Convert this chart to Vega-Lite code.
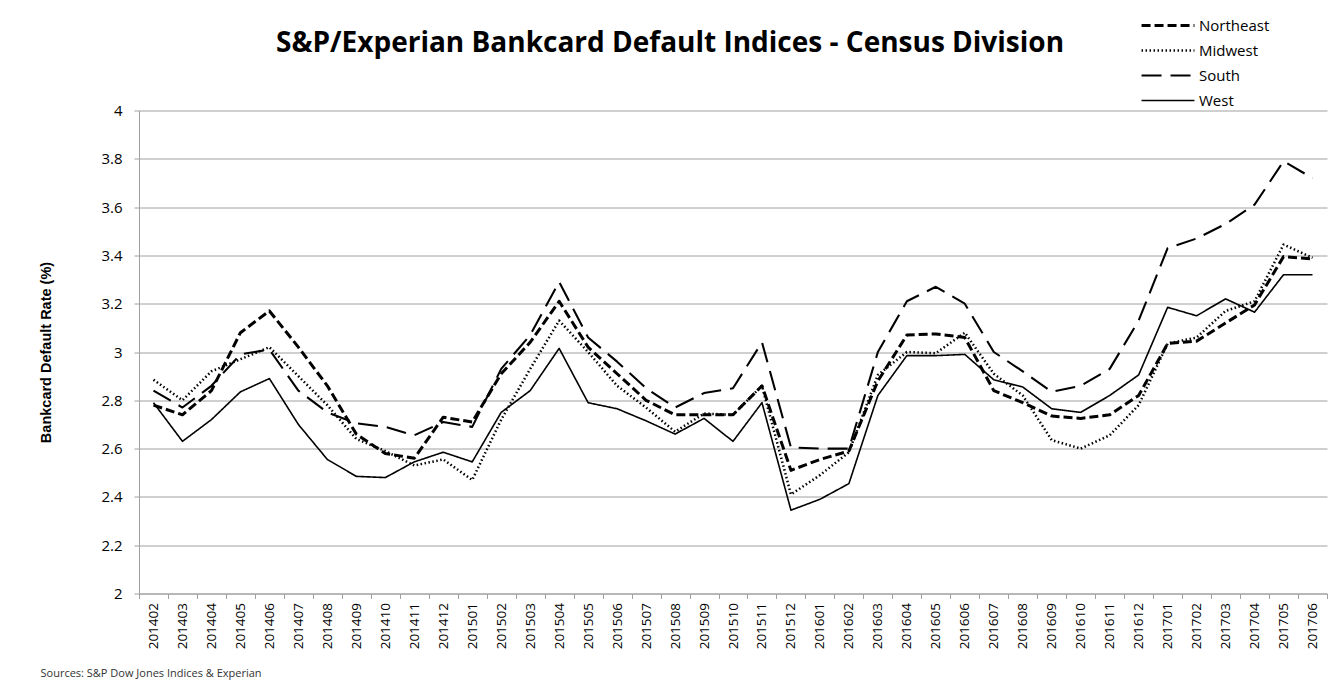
{
  "$schema": "https://vega.github.io/schema/vega-lite/v6.json",
  "autosize": {"type": "none"},
  "width": 1188,
  "height": 483,
  "padding": {"left": 139, "top": 110.5, "right": 16, "bottom": 96.5},
  "background": "white",
  "title": {
    "text": "S&P/Experian Bankcard Default Indices - Census Division",
    "font": "Open Sans",
    "fontSize": 28,
    "fontWeight": "bold",
    "color": "black",
    "anchor": "middle",
    "frame": "group",
    "dx": -63,
    "offset": -42
  },
  "data": {"values": [
    {"month":"201402","region":"Northeast","rate":2.78},{"month":"201403","region":"Northeast","rate":2.74},{"month":"201404","region":"Northeast","rate":2.84},{"month":"201405","region":"Northeast","rate":3.08},{"month":"201406","region":"Northeast","rate":3.17},{"month":"201407","region":"Northeast","rate":3.02},{"month":"201408","region":"Northeast","rate":2.86},{"month":"201409","region":"Northeast","rate":2.66},{"month":"201410","region":"Northeast","rate":2.58},{"month":"201411","region":"Northeast","rate":2.56},{"month":"201412","region":"Northeast","rate":2.73},
    {"month":"201501","region":"Northeast","rate":2.71},{"month":"201502","region":"Northeast","rate":2.91},{"month":"201503","region":"Northeast","rate":3.04},{"month":"201504","region":"Northeast","rate":3.21},{"month":"201505","region":"Northeast","rate":3.02},{"month":"201506","region":"Northeast","rate":2.91},{"month":"201507","region":"Northeast","rate":2.80},{"month":"201508","region":"Northeast","rate":2.74},{"month":"201509","region":"Northeast","rate":2.74},{"month":"201510","region":"Northeast","rate":2.74},{"month":"201511","region":"Northeast","rate":2.86},{"month":"201512","region":"Northeast","rate":2.51},
    {"month":"201601","region":"Northeast","rate":2.555},{"month":"201602","region":"Northeast","rate":2.59},{"month":"201603","region":"Northeast","rate":2.88},{"month":"201604","region":"Northeast","rate":3.07},{"month":"201605","region":"Northeast","rate":3.075},{"month":"201606","region":"Northeast","rate":3.06},{"month":"201607","region":"Northeast","rate":2.84},{"month":"201608","region":"Northeast","rate":2.79},{"month":"201609","region":"Northeast","rate":2.735},{"month":"201610","region":"Northeast","rate":2.725},{"month":"201611","region":"Northeast","rate":2.74},{"month":"201612","region":"Northeast","rate":2.82},
    {"month":"201701","region":"Northeast","rate":3.035},{"month":"201702","region":"Northeast","rate":3.045},{"month":"201703","region":"Northeast","rate":3.12},{"month":"201704","region":"Northeast","rate":3.195},{"month":"201705","region":"Northeast","rate":3.395},{"month":"201706","region":"Northeast","rate":3.385},

    {"month":"201402","region":"Midwest","rate":2.885},{"month":"201403","region":"Midwest","rate":2.80},{"month":"201404","region":"Midwest","rate":2.92},{"month":"201405","region":"Midwest","rate":2.97},{"month":"201406","region":"Midwest","rate":3.02},{"month":"201407","region":"Midwest","rate":2.90},{"month":"201408","region":"Midwest","rate":2.78},{"month":"201409","region":"Midwest","rate":2.64},{"month":"201410","region":"Midwest","rate":2.59},{"month":"201411","region":"Midwest","rate":2.53},{"month":"201412","region":"Midwest","rate":2.555},
    {"month":"201501","region":"Midwest","rate":2.47},{"month":"201502","region":"Midwest","rate":2.72},{"month":"201503","region":"Midwest","rate":2.93},{"month":"201504","region":"Midwest","rate":3.13},{"month":"201505","region":"Midwest","rate":3.0},{"month":"201506","region":"Midwest","rate":2.86},{"month":"201507","region":"Midwest","rate":2.77},{"month":"201508","region":"Midwest","rate":2.67},{"month":"201509","region":"Midwest","rate":2.745},{"month":"201510","region":"Midwest","rate":2.74},{"month":"201511","region":"Midwest","rate":2.86},{"month":"201512","region":"Midwest","rate":2.41},
    {"month":"201601","region":"Midwest","rate":2.49},{"month":"201602","region":"Midwest","rate":2.585},{"month":"201603","region":"Midwest","rate":2.905},{"month":"201604","region":"Midwest","rate":3.0},{"month":"201605","region":"Midwest","rate":2.995},{"month":"201606","region":"Midwest","rate":3.08},{"month":"201607","region":"Midwest","rate":2.91},{"month":"201608","region":"Midwest","rate":2.82},{"month":"201609","region":"Midwest","rate":2.635},{"month":"201610","region":"Midwest","rate":2.60},{"month":"201611","region":"Midwest","rate":2.655},{"month":"201612","region":"Midwest","rate":2.78},
    {"month":"201701","region":"Midwest","rate":3.035},{"month":"201702","region":"Midwest","rate":3.06},{"month":"201703","region":"Midwest","rate":3.17},{"month":"201704","region":"Midwest","rate":3.21},{"month":"201705","region":"Midwest","rate":3.445},{"month":"201706","region":"Midwest","rate":3.39},

    {"month":"201402","region":"South","rate":2.84},{"month":"201403","region":"South","rate":2.77},{"month":"201404","region":"South","rate":2.86},{"month":"201405","region":"South","rate":2.99},{"month":"201406","region":"South","rate":3.01},{"month":"201407","region":"South","rate":2.84},{"month":"201408","region":"South","rate":2.75},{"month":"201409","region":"South","rate":2.705},{"month":"201410","region":"South","rate":2.69},{"month":"201411","region":"South","rate":2.655},{"month":"201412","region":"South","rate":2.71},
    {"month":"201501","region":"South","rate":2.69},{"month":"201502","region":"South","rate":2.93},{"month":"201503","region":"South","rate":3.07},{"month":"201504","region":"South","rate":3.29},{"month":"201505","region":"South","rate":3.06},{"month":"201506","region":"South","rate":2.96},{"month":"201507","region":"South","rate":2.85},{"month":"201508","region":"South","rate":2.77},{"month":"201509","region":"South","rate":2.83},{"month":"201510","region":"South","rate":2.85},{"month":"201511","region":"South","rate":3.04},{"month":"201512","region":"South","rate":2.605},
    {"month":"201601","region":"South","rate":2.60},{"month":"201602","region":"South","rate":2.60},{"month":"201603","region":"South","rate":3.0},{"month":"201604","region":"South","rate":3.21},{"month":"201605","region":"South","rate":3.27},{"month":"201606","region":"South","rate":3.20},{"month":"201607","region":"South","rate":3.0},{"month":"201608","region":"South","rate":2.92},{"month":"201609","region":"South","rate":2.835},{"month":"201610","region":"South","rate":2.86},{"month":"201611","region":"South","rate":2.93},{"month":"201612","region":"South","rate":3.13},
    {"month":"201701","region":"South","rate":3.43},{"month":"201702","region":"South","rate":3.47},{"month":"201703","region":"South","rate":3.53},{"month":"201704","region":"South","rate":3.61},{"month":"201705","region":"South","rate":3.79},{"month":"201706","region":"South","rate":3.72},

    {"month":"201402","region":"West","rate":2.79},{"month":"201403","region":"West","rate":2.63},{"month":"201404","region":"West","rate":2.72},{"month":"201405","region":"West","rate":2.835},{"month":"201406","region":"West","rate":2.89},{"month":"201407","region":"West","rate":2.70},{"month":"201408","region":"West","rate":2.555},{"month":"201409","region":"West","rate":2.485},{"month":"201410","region":"West","rate":2.48},{"month":"201411","region":"West","rate":2.545},{"month":"201412","region":"West","rate":2.585},
    {"month":"201501","region":"West","rate":2.545},{"month":"201502","region":"West","rate":2.75},{"month":"201503","region":"West","rate":2.84},{"month":"201504","region":"West","rate":3.015},{"month":"201505","region":"West","rate":2.79},{"month":"201506","region":"West","rate":2.765},{"month":"201507","region":"West","rate":2.715},{"month":"201508","region":"West","rate":2.66},{"month":"201509","region":"West","rate":2.725},{"month":"201510","region":"West","rate":2.63},{"month":"201511","region":"West","rate":2.79},{"month":"201512","region":"West","rate":2.345},
    {"month":"201601","region":"West","rate":2.39},{"month":"201602","region":"West","rate":2.455},{"month":"201603","region":"West","rate":2.82},{"month":"201604","region":"West","rate":2.985},{"month":"201605","region":"West","rate":2.985},{"month":"201606","region":"West","rate":2.99},{"month":"201607","region":"West","rate":2.885},{"month":"201608","region":"West","rate":2.855},{"month":"201609","region":"West","rate":2.765},{"month":"201610","region":"West","rate":2.75},{"month":"201611","region":"West","rate":2.82},{"month":"201612","region":"West","rate":2.905},
    {"month":"201701","region":"West","rate":3.185},{"month":"201702","region":"West","rate":3.15},{"month":"201703","region":"West","rate":3.22},{"month":"201704","region":"West","rate":3.165},{"month":"201705","region":"West","rate":3.32},{"month":"201706","region":"West","rate":3.32}
  ]},
  "mark": {"type": "line", "color": "black", "strokeJoin": "round", "strokeCap": "butt"},
  "encoding": {
    "x": {
      "field": "month",
      "type": "ordinal",
      "scale": {"type": "band", "paddingInner": 0, "paddingOuter": 0},
      "axis": {
        "title": "Sources: S&P Dow Jones Indices & Experian",
        "titleFont": "Open Sans",
        "titleFontSize": 11,
        "titleFontWeight": "normal",
        "titleColor": "#333333",
        "titleAlign": "left",
        "titleAnchor": "start",
        "titleAngle": 0,
        "titleBaseline": "alphabetic",
        "titleX": -99,
        "titleY": 83,
        "labelAngle": -90,
        "labelFont": "Open Sans",
        "labelFontSize": 13.5,
        "labelColor": "black",
        "labelPadding": 4,
        "tickSize": 5,
        "tickColor": "#a0a0a0",
        "domainColor": "#a0a0a0",
        "tickBand": "extent",
        "grid": false
      }
    },
    "y": {
      "field": "rate",
      "type": "quantitative",
      "scale": {"domain": [2, 4], "nice": false, "zero": false},
      "axis": {
        "values": [2, 2.2, 2.4, 2.6, 2.8, 3, 3.2, 3.4, 3.6, 3.8, 4],
        "format": ".1~f",
        "title": "Bankcard Default Rate (%)",
        "titleFont": "Liberation Sans",
        "titleFontSize": 14.5,
        "titleFontWeight": "bold",
        "titleColor": "black",
        "titleAngle": 270,
        "titleAlign": "center",
        "titleBaseline": "alphabetic",
        "titleX": -89,
        "titleY": 241.5,
        "labelFont": "Open Sans",
        "labelFontSize": 15,
        "labelColor": "black",
        "labelPadding": 12,
        "tickSize": 5,
        "tickColor": "#a0a0a0",
        "domainColor": "#a0a0a0",
        "grid": true,
        "gridColor": "#a0a0a0",
        "gridWidth": 1
      }
    },
    "strokeDash": {
      "field": "region",
      "type": "nominal",
      "scale": {
        "domain": ["Northeast", "Midwest", "South", "West"],
        "range": [[9, 4], [1.5, 2.5], [20, 9], [1, 0]]
      },
      "legend": {
        "title": null,
        "orient": "none",
        "legendX": 1001,
        "legendY": -95,
        "symbolType": "stroke",
        "symbolSize": 2800,
        "symbolStrokeColor": "black",
        "clipHeight": 20,
        "rowPadding": 5,
        "labelFont": "Open Sans",
        "labelFontSize": 15,
        "labelColor": "black",
        "labelOffset": 3
      }
    },
    "strokeWidth": {
      "field": "region",
      "type": "nominal",
      "scale": {
        "domain": ["Northeast", "Midwest", "South", "West"],
        "range": [3, 1.6, 3, 2.2]
      },
      "legend": null
    }
  },
  "config": {"view": {"stroke": null}}
}
